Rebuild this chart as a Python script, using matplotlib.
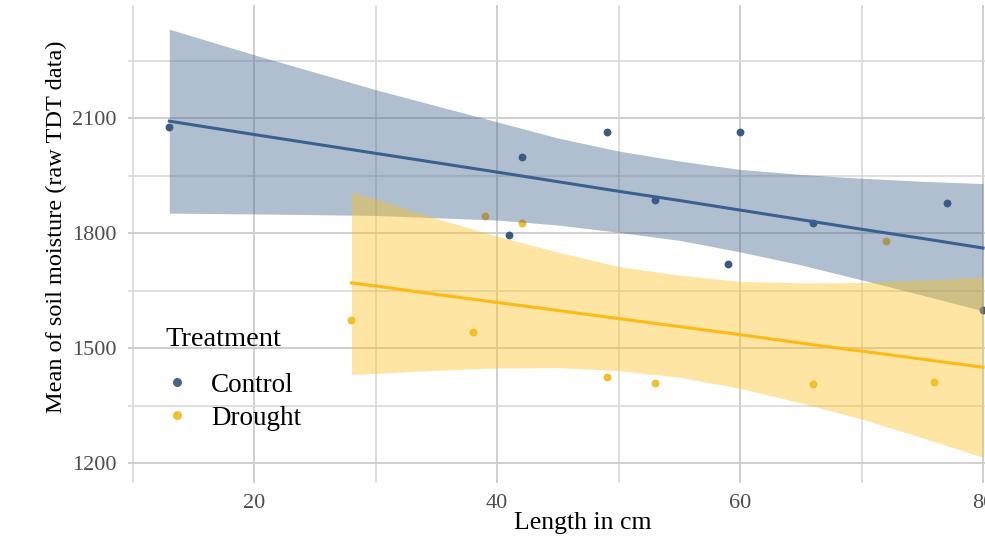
import matplotlib
matplotlib.use("Agg")
from matplotlib import pyplot as plt
from matplotlib.lines import Line2D
from matplotlib.ticker import MultipleLocator

plt.rcParams["font.family"] = ["Liberation Serif", "DejaVu Serif"]

# raw points
ctrl_len = [13, 41, 42, 49, 53, 59, 60, 66, 77, 80]
ctrl_moist = [2077, 1795, 1998, 2063, 1886, 1719, 2063, 1826, 1878, 1599]
drought_len = [28, 38, 39, 42, 49, 53, 66, 72, 76]
drought_moist = [1573, 1542, 1844, 1826, 1424, 1409, 1406, 1779, 1411]

# fitted lines and confidence band
ctrl_fit_x = [13, 20, 30, 40, 45, 50, 55, 60, 65, 70, 75, 80]
ctrl_fit = [2092, 2057, 2008, 1959, 1934, 1909, 1885, 1860, 1835, 1810, 1786, 1761]
ctrl_hi = [2332, 2265, 2174, 2090, 2048, 2014, 1988, 1966, 1953, 1943, 1935, 1929]
ctrl_lo = [1852, 1850, 1846, 1834, 1821, 1802, 1781, 1751, 1717, 1678, 1638, 1597]

drought_fit_x = [28, 30, 35, 40, 45, 50, 55, 60, 65, 70, 75, 80]
drought_fit = [1670, 1662, 1640, 1619, 1598, 1577, 1556, 1535, 1513, 1492, 1471, 1450]
drought_hi = [1907, 1889, 1838, 1792, 1750, 1713, 1690, 1674, 1670, 1671, 1677, 1685]
drought_lo = [1431, 1434, 1442, 1448, 1449, 1441, 1424, 1395, 1357, 1315, 1266, 1215]

blue = "#3a5f8b"
yellow = "#fdbf1a"

fig = plt.figure(figsize=(9.85, 5.41), dpi=100)
ax = fig.add_axes([128 / 985, 1 - 483 / 541, 1 - 128 / 985, (483 - 5) / 541])

ax.scatter(ctrl_len, ctrl_moist, s=32, color="#3b5a82", zorder=2, linewidths=0)
ax.scatter(drought_len, drought_moist, s=32, color="#f2be2e", zorder=2, linewidths=0)

ax.fill_between(ctrl_fit_x, ctrl_lo, ctrl_hi, color=blue, alpha=0.4, lw=0, zorder=3)
ax.plot(ctrl_fit_x, ctrl_fit, color="#3a6090", lw=2.2, zorder=4)
ax.fill_between(drought_fit_x, drought_lo, drought_hi, color=yellow, alpha=0.4, lw=0, zorder=5)
ax.plot(drought_fit_x, drought_fit, color="#fdb915", lw=2.2, zorder=6)

ax.set_xlim(9.6, 80.16)
ax.set_ylim(1148, 2395)
ax.xaxis.set_major_locator(MultipleLocator(20))
ax.xaxis.set_minor_locator(MultipleLocator(10))
ax.set_yticks([1200, 1500, 1800, 2100])
ax.set_yticks([1350, 1650, 1950, 2250], minor=True)

ax.grid(which="major", color="#cccccc", lw=1.3, zorder=0)
ax.grid(which="minor", color="#d6d6d6", lw=1.1, zorder=0)
ax.set_axisbelow(True)
for s in ax.spines.values():
    s.set_visible(False)
ax.tick_params(which="both", length=0, labelsize=16, labelcolor="#4d4d4d", pad=8)

ax.set_xlabel("Length in cm", fontsize=18.5)
ax.set_ylabel("Mean of soil moisture (raw TDT data)", fontsize=17.5)
ax.xaxis.set_label_coords((583 - 128) / 857, -(512 - 483) / 478)
ax.yaxis.set_label_coords(-(128 - 67) / 857, (483 - 227) / 478)

# legend: title as plain text, entries below it
ax.text(165 / 985, 1 - 340 / 541, "Treatment", transform=fig.transFigure,
        fontsize=20.5, ha="left", va="center")
handles = [
    Line2D([], [], ls="", marker="o", ms=5.5, color="#4a6386", label="Control"),
    Line2D([], [], ls="", marker="o", ms=5.5, color="#f2c02e", label="Drought"),
]
leg = ax.legend(handles=handles, frameon=False, fontsize=19.5, loc="upper left",
                bbox_to_anchor=(150 / 985, 1 - 359 / 541), bbox_transform=fig.transFigure,
                handlelength=1.0, handletextpad=0.75, labelspacing=0.3, borderpad=0)

fig.savefig("out.png", dpi=100)
